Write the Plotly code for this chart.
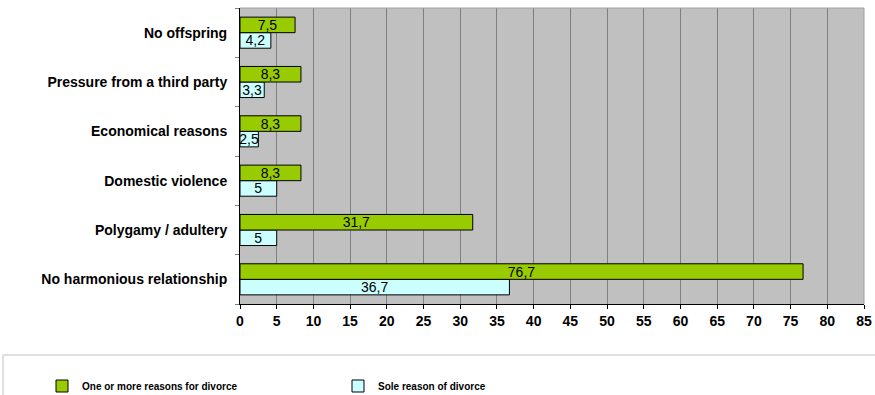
import plotly.graph_objects as go

categories = ["No harmonious relationship", "Polygamy / adultery", "Domestic violence",
              "Economical reasons", "Pressure from a third party", "No offspring"]
one_or_more = [76.7, 31.7, 8.3, 8.3, 8.3, 7.5]
sole = [36.7, 5, 5, 2.5, 3.3, 4.2]
x_ticks = list(range(0, 90, 5))

def lab(vals):
    return [f"{v:g}".replace(".", ",") for v in vals]

fig = go.Figure()
fig.add_trace(go.Bar(
    y=categories, x=sole, orientation="h", name="Sole reason of divorce",
    marker=dict(color="#ccffff", line=dict(color="black", width=1)),
    text=lab(sole), textposition="inside", insidetextanchor="middle", textangle=0,
    constraintext="none", textfont=dict(family="Liberation Sans", size=14, color="black"),
    legendrank=2,
))
fig.add_trace(go.Bar(
    y=categories, x=one_or_more, orientation="h", name="One or more reasons for divorce",
    marker=dict(color="#99cc00", line=dict(color="black", width=1)),
    text=lab(one_or_more), textposition="inside", insidetextanchor="middle", textangle=0,
    constraintext="none", textfont=dict(family="Liberation Sans", size=14, color="black"),
    legendrank=1,
))

L, R, T, B = 240, 11, 8, 91
W, H = 875, 395
pw, ph = W - L - R, H - T - B

def px(x):
    return (x - L) / pw

def py(y):
    return (H - B - y) / ph

fig.update_layout(
    width=W, height=H,
    margin=dict(l=L, r=R, t=T, b=B, autoexpand=False),
    paper_bgcolor="white", plot_bgcolor="#c0c0c0",
    barmode="group", bargap=0.37, bargroupgap=0,
    font=dict(family="Liberation Sans", size=12, color="black"),
    showlegend=True,
    legend=dict(orientation="h", x=px(42), xanchor="left", y=py(386), yanchor="middle",
                entrywidth=251, entrywidthmode="pixels", itemwidth=30,
                font=dict(family="Liberation Sans", size=10, weight="bold"),
                bgcolor="rgba(0,0,0,0)"),
    shapes=[
        dict(type="rect", xref="paper", yref="paper", x0=px(3), x1=px(890), y0=py(355), y1=py(420),
             line=dict(color="#c0c0c0", width=1), fillcolor="rgba(0,0,0,0)", layer="below"),
        dict(type="line", xref="paper", yref="paper", x0=0, x1=1, y0=1, y1=1,
             line=dict(color="#a0a0a0", width=1)),
        dict(type="line", xref="paper", yref="paper", x0=1, x1=1, y0=0, y1=1,
             line=dict(color="#a0a0a0", width=1)),
    ],
)
fig.update_xaxes(
    range=[0, 85], tickvals=x_ticks, ticktext=[str(v) for v in x_ticks],
    showgrid=True, gridcolor="#808080", gridwidth=1, zeroline=False,
    showline=True, linecolor="black", linewidth=1,
    ticks="outside", ticklen=4, tickcolor="black",
    tickfont=dict(family="Liberation Sans", size=14, weight="bold"),
)
fig.update_yaxes(
    showgrid=False, showline=True, linecolor="black", linewidth=1,
    ticks="outside", ticklen=4, tickcolor="#808080", tickson="boundaries",
    tickfont=dict(family="Liberation Sans", size=14, weight="bold"),
    ticklabelstandoff=9,
)
fig.write_html("out.html")
